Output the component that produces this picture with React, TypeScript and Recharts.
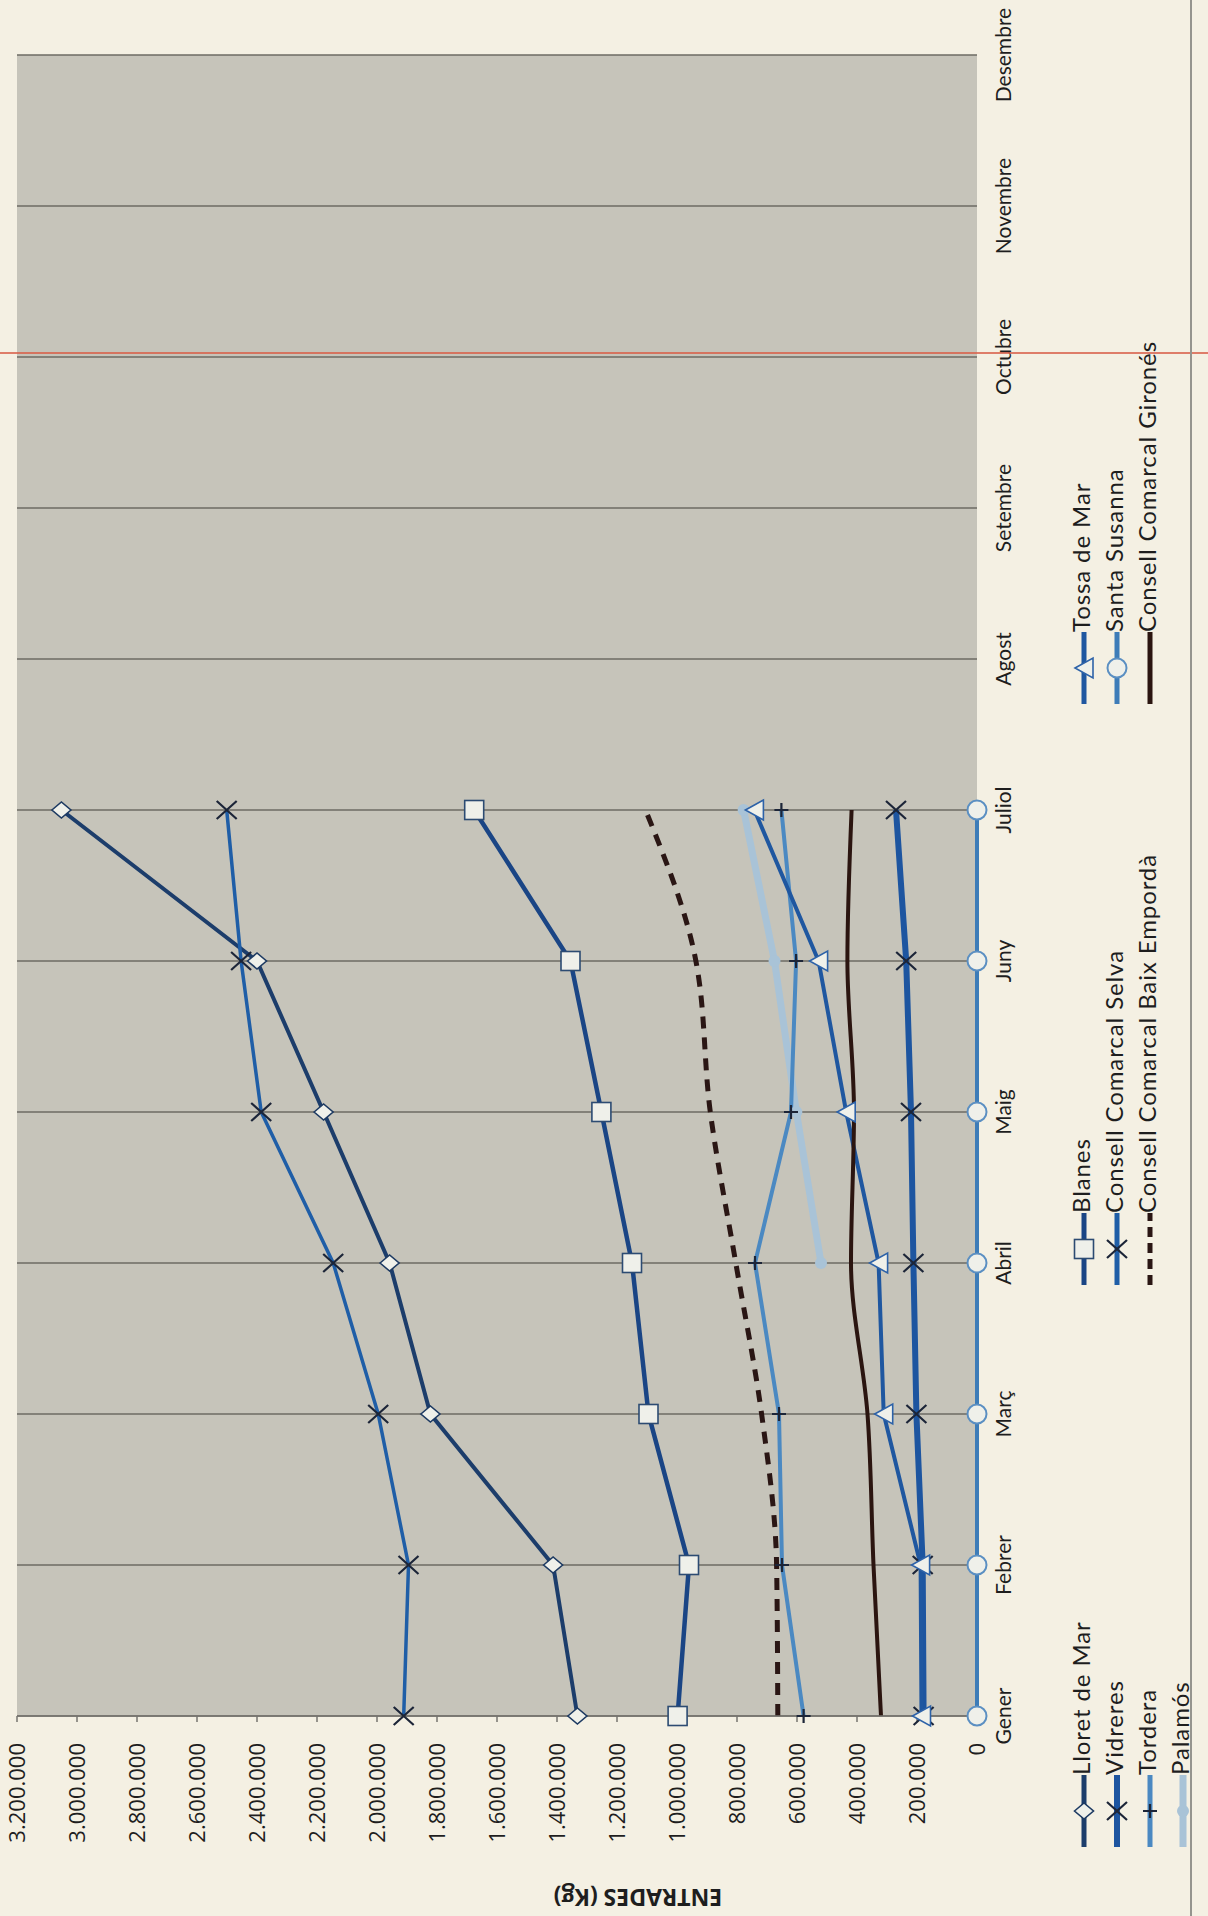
import { CartesianGrid, Label, Line, LineChart, XAxis, YAxis } from "recharts";

// the page is a scanned sheet turned on its side: the chart is drawn upright
// and the whole block is turned 90deg counter-clockwise

const months = ["Gener", "Febrer", "Març", "Abril", "Maig", "Juny", "Juliol", "Agost", "Setembre", "Octubre", "Novembre", "Desembre"];

const lloretDeMar = [1332000, 1413000, 1822000, 1958000, 2178000, 2400000, 3052000, null, null, null, null, null];
const vidreres = [178000, 181000, 202000, 212000, 220000, 236000, 270000, null, null, null, null, null];
const tordera = [578000, 650000, 660000, 740000, 620000, 603000, 652000, null, null, null, null, null];
const palamos = [null, null, null, 520000, 602000, 675000, 778000, null, null, null, null, null];
const blanes = [998000, 960000, 1095000, 1150000, 1252000, 1355000, 1676000, null, null, null, null, null];
const consellSelva = [1911000, 1895000, 1996000, 2146000, 2386000, 2453000, 2501000, null, null, null, null, null];
const consellBaixEmporda = [664000, 668000, 718000, 804000, 889000, 937000, 1105000, null, null, null, null, null];
const tossaDeMar = [185000, 188000, 311000, 328000, 436000, 528000, 742000, null, null, null, null, null];
const santaSusanna = [0, 0, 0, 0, 0, 0, 0, null, null, null, null, null];
const consellGirones = [320000, 345000, 365000, 420000, 410000, 432000, 418000, null, null, null, null, null];

const yTicks = [0, 200000, 400000, 600000, 800000, 1000000, 1200000, 1400000, 1600000, 1800000, 2000000, 2200000, 2400000, 2600000, 2800000, 3000000, 3200000];

const theme = {
  page: "#f4f0e3",
  plot: "#c6c4ba",
  grid: "#6c6b63",
  axis: "#76756f",
  text: "#1e1e1e",
  markerFill: "#eff0ea",
  markerStroke: "#1d3a62",
  cross: "#1c2538",
  scanLine: "#d8604a",
  sheetEdge: "#95948e",
} as const;

type MarkerKind = "diamond" | "cross" | "plus" | "square" | "triangle" | "circle" | "dot" | "none";

interface SeriesDef {
  key: string;
  name: string;
  values: (number | null)[];
  color: string;
  width: number;
  marker: MarkerKind;
  dash?: string;
  curve?: "linear" | "monotone";
}

const series: SeriesDef[] = [
  { key: "palamos", name: "Palamós", values: palamos, color: "#a9c3d7", width: 7, marker: "dot" },
  { key: "lloret", name: "Lloret de Mar", values: lloretDeMar, color: "#1c3d6b", width: 4, marker: "diamond" },
  { key: "vidreres", name: "Vidreres", values: vidreres, color: "#1d55a0", width: 6, marker: "cross" },
  { key: "tordera", name: "Tordera", values: tordera, color: "#4b89c2", width: 4, marker: "plus" },
  { key: "blanes", name: "Blanes", values: blanes, color: "#1a4585", width: 4.5, marker: "square" },
  { key: "selva", name: "Consell Comarcal Selva", values: consellSelva, color: "#1f5ea7", width: 3.5, marker: "cross" },
  { key: "baix", name: "Consell Comarcal Baix Empordà", values: consellBaixEmporda, color: "#2a1614", width: 5, marker: "none", dash: "12 9", curve: "monotone" },
  { key: "tossa", name: "Tossa de Mar", values: tossaDeMar, color: "#1f57a0", width: 4, marker: "triangle" },
  { key: "girones", name: "Consell Comarcal Gironés", values: consellGirones, color: "#2b1510", width: 4, marker: "none", curve: "monotone" },
  { key: "susanna", name: "Santa Susanna", values: santaSusanna, color: "#3d7cb8", width: 4, marker: "circle" },
];

// legend columns, read top to bottom
const legendColumns = [
  ["lloret", "vidreres", "tordera", "palamos"],
  ["blanes", "selva", "baix"],
  ["tossa", "susanna", "girones"],
];

const data = months.map((month, i) => {
  const row: Record<string, string | number | null> = { month };
  series.forEach((s) => (row[s.key] = s.values[i]));
  return row;
});

const fmt = (v: number) => String(v).replace(/\B(?=(\d{3})+(?!\d))/g, ".");

function Marker({ kind, cx, cy, color }: { kind: MarkerKind; cx: number; cy: number; color: string }) {
  switch (kind) {
    case "diamond":
      return <path d={`M${cx},${cy - 9.5}L${cx + 8},${cy}L${cx},${cy + 9.5}L${cx - 8},${cy}Z`} fill={theme.markerFill} stroke={theme.markerStroke} strokeWidth={1.6} />;
    case "square":
      return <rect x={cx - 9.5} y={cy - 9.5} width={19} height={19} fill={theme.markerFill} stroke="#2c4b72" strokeWidth={1.6} />;
    case "circle":
      return <circle cx={cx} cy={cy} r={9.5} fill={theme.markerFill} stroke="#5b8fc2" strokeWidth={2} />;
    case "triangle":
      return <path d={`M${cx},${cy - 9}L${cx + 10},${cy + 9}L${cx - 10},${cy + 9}Z`} fill={theme.markerFill} stroke="#2d62a8" strokeWidth={1.6} />;
    case "cross":
      return (
        <path d={`M${cx - 9},${cy - 10}L${cx + 9},${cy + 10}M${cx - 9},${cy + 10}L${cx + 9},${cy - 10}`} stroke={theme.cross} strokeWidth={2.2} fill="none" />
      );
    case "plus":
      return <path d={`M${cx - 7},${cy}L${cx + 7},${cy}M${cx},${cy - 7}L${cx},${cy + 7}`} stroke={theme.cross} strokeWidth={2.2} fill="none" />;
    case "dot":
      return <circle cx={cx} cy={cy} r={6} fill={color} stroke="none" />;
    default:
      return null;
  }
}

function LegendBlock() {
  const colStart = [69, 631, 1212];
  const rowV = [1084, 1117, 1150, 1183];
  return (
    <>
      {legendColumns.map((col, c) =>
        col.map((key, r) => {
          const s = series.find((x) => x.key === key)!;
          return (
            <div
              key={key}
              style={{
                position: "absolute",
                left: colStart[c],
                top: rowV[r] - 15,
                height: 30,
                display: "flex",
                alignItems: "center",
                whiteSpace: "nowrap",
              }}
            >
              <svg width={72} height={30} style={{ display: "block" }}>
                <line x1={0} y1={15} x2={72} y2={15} stroke={s.color} strokeWidth={Math.max(5, s.width)} strokeDasharray={s.dash ? "10 6" : undefined} />
                <Marker kind={s.marker} cx={36} cy={15} color={s.color} />
              </svg>
              <span style={{ fontFamily: "Lato", fontSize: 24, letterSpacing: 0.9, color: theme.text, lineHeight: "30px", position: "relative", top: -3 }}>
                {s.name}
              </span>
            </div>
          );
        })
      )}
    </>
  );
}

export default function App() {
  return (
    <div style={{ position: "absolute", left: 0, top: 0, width: 1208, height: 1916, background: theme.page, overflow: "hidden" }}>
      <div
        style={{
          position: "absolute",
          left: 0,
          top: 0,
          width: 1916,
          height: 1208,
          transformOrigin: "0 0",
          transform: "translateY(1916px) rotate(-90deg)",
        }}
      >
        <LineChart width={1916} height={1208} data={data} margin={{ top: 17, right: 55, bottom: 0, left: 0 }}>
          <CartesianGrid horizontal={false} stroke={theme.grid} strokeWidth={1.5} fill={theme.plot} fillOpacity={1} />
          <XAxis
            dataKey="month"
            height={231}
            interval={0}
            axisLine={false}
            tickLine={false}
            tickSize={0}
            tickMargin={19}
            tick={{ fill: theme.text, fontSize: 21, fontFamily: "Lato" }}
          />
          <YAxis
            type="number"
            domain={[0, 3200000]}
            ticks={yTicks}
            interval={0}
            width={200}
            tickSize={6}
            tickMargin={21}
            tickFormatter={fmt}
            axisLine={{ stroke: theme.axis, strokeWidth: 1.5 }}
            tickLine={{ stroke: theme.axis, strokeWidth: 1.5 }}
            tick={{ fill: theme.text, fontSize: 22, fontFamily: "Open Sans" }}
          >
            <Label
              content={() => (
                <text x={27} y={638} transform="rotate(-90 27 638)" textAnchor="middle" fontFamily="Open Sans" fontWeight={700} fontSize={23} fill={theme.text}>
                  ENTRADES (Kg)
                </text>
              )}
            />
          </YAxis>
          {series.map((s) => (
            <Line
              key={s.key}
              dataKey={s.key}
              name={s.name}
              type={s.curve ?? "linear"}
              stroke={s.color}
              strokeWidth={s.width}
              strokeDasharray={s.dash}
              isAnimationActive={false}
              activeDot={false}
              dot={(p: any) => (
                <g key={`${s.key}-${p.index}`}>
                  {p.cy == null || p.value == null ? null : <Marker kind={s.marker} cx={p.cx} cy={p.cy} color={s.color} />}
                </g>
              )}
            />
          ))}
        </LineChart>
        <LegendBlock />
      </div>
      <div style={{ position: "absolute", left: 0, top: 352, width: 1208, height: 1.5, background: theme.scanLine, opacity: 0.8 }} />
      <div style={{ position: "absolute", left: 1190, top: 0, width: 2, height: 1916, background: theme.sheetEdge }} />
    </div>
  );
}
